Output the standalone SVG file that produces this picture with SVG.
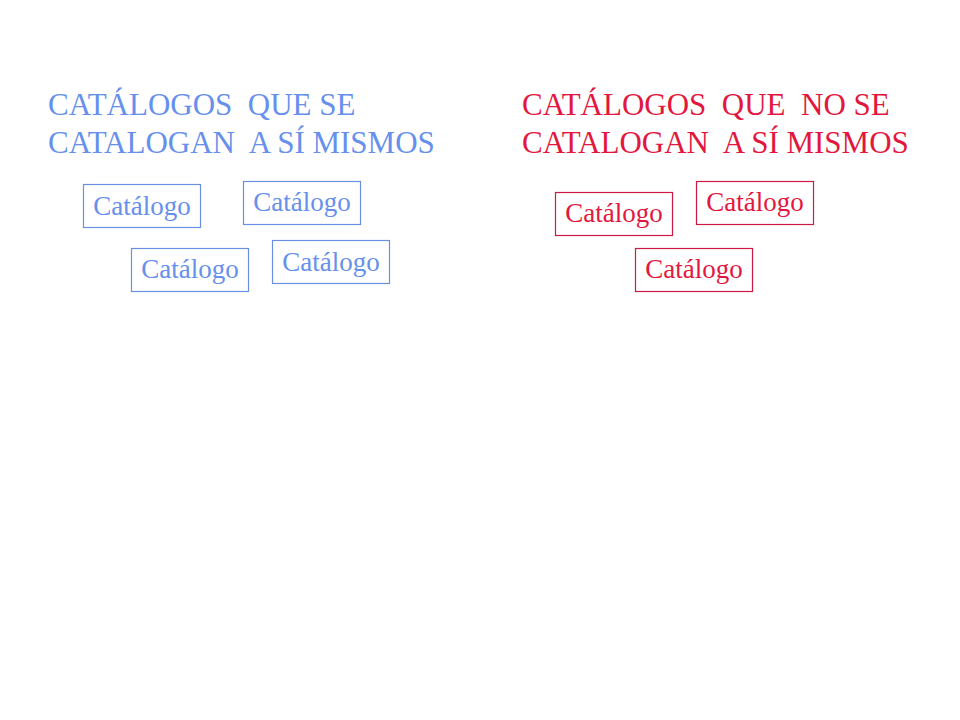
<svg xmlns="http://www.w3.org/2000/svg" width="960" height="720" viewBox="0 0 960 720">
<style>
text { font-family: "Liberation Serif", "Times New Roman", serif; white-space: pre; }
.title { font-size: 31px; }
.blue { fill: #6690EC; }
.red { fill: #E3173E; }
.box { fill: #FFFFFF; stroke-width: 1.2; }
.bbox { stroke: #6A90E4; }
.rbox { stroke: #CC1A45; }
.lbl { font-size: 27px; text-anchor: middle; }
</style>
<rect width="960" height="720" fill="#FFFFFF"/>
<g id="title-left">
<text class="title blue" x="48" y="114.5" xml:space="preserve">CATÁLOGOS  QUE SE</text>
<text class="title blue" x="48" y="152.5" xml:space="preserve">CATALOGAN  A SÍ MISMOS</text>
</g>
<g id="title-right">
<text class="title red" x="522" y="114.5" xml:space="preserve">CATÁLOGOS  QUE  NO SE</text>
<text class="title red" x="522" y="152.5" xml:space="preserve">CATALOGAN  A SÍ MISMOS</text>
</g>
<g id="connectors"></g>
<g id="node-b1"><rect class="box bbox" x="83.5" y="184.5" width="117" height="43"/><text class="lbl blue" x="142" y="214.5">Catálogo</text></g>
<g id="node-b2"><rect class="box bbox" x="243.5" y="181.5" width="117" height="43"/><text class="lbl blue" x="302" y="211">Catálogo</text></g>
<g id="node-b3"><rect class="box bbox" x="131.5" y="248.5" width="117" height="43"/><text class="lbl blue" x="190" y="277.5">Catálogo</text></g>
<g id="node-b4"><rect class="box bbox" x="272.5" y="240.5" width="117" height="43"/><text class="lbl blue" x="331" y="270.5">Catálogo</text></g>
<g id="node-r1"><rect class="box rbox" x="555.5" y="192.5" width="117" height="43"/><text class="lbl red" x="614" y="222">Catálogo</text></g>
<g id="node-r2"><rect class="box rbox" x="696.5" y="181.5" width="117" height="43"/><text class="lbl red" x="755" y="211">Catálogo</text></g>
<g id="node-r3"><rect class="box rbox" x="635.5" y="248.5" width="117" height="43"/><text class="lbl red" x="694" y="278">Catálogo</text></g>
</svg>
